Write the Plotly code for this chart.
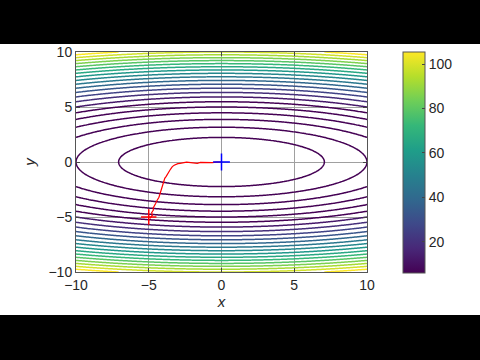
import numpy as np
import plotly.graph_objects as go

# Grid for the contour surface f(x, y) = a*x^2 + b*y^2
x_range = [-10, 10]
y_range = [-10, 10]
coef_x = 0.1
coef_y = 1.0
levels_start, levels_end, levels_step = 5, 105, 5
cbar_min, cbar_max = 6, 105.4
line_cmin, line_cmax = 30, 105.4
cbar_ticks = [20, 40, 60, 80, 100]
axis_ticks = [-10, -5, 0, 5, 10]

# Optimisation path
path_x = [-4.91, -4.85, -4.75, -4.80, -4.68, -4.70, -4.63, -4.55, -4.52, -4.45, -4.36, -4.30,
          -4.25, -4.20, -4.13, -4.05, -4.00, -3.95, -3.90, -3.80, -3.72, -3.60, -3.54, -3.45,
          -3.38, -3.25, -3.15, -3.00, -2.85, -2.70, -2.58, -2.40, -2.12, -1.90, -1.66, -1.45,
          -1.21, -0.95, -0.64, -0.35, 0.0]
path_y = [-5.12, -4.95, -4.82, -4.60, -4.36, -4.20, -4.06, -3.90, -3.76, -3.55, -3.39, -3.20,
          -3.00, -2.75, -2.48, -2.20, -1.94, -1.70, -1.48, -1.30, -1.09, -0.90, -0.73, -0.55,
          -0.42, -0.30, -0.21, -0.15, -0.12, -0.05, -0.06, -0.02, -0.06, -0.03, -0.12, -0.04,
          -0.06, -0.02, -0.06, -0.01, 0.0]
start_pt = [-5, -5]
end_pt = [0, 0]

xs = np.linspace(x_range[0], x_range[1], 201)
ys = np.linspace(y_range[0], y_range[1], 201)
X, Y = np.meshgrid(xs, ys)
Z = coef_x * X**2 + coef_y * Y**2

fig = go.Figure()
fig.add_trace(go.Contour(
    x=xs, y=ys, z=Z,
    contours=dict(start=levels_start, end=levels_end, size=levels_step, coloring='lines'),
    line=dict(width=1.5),
    colorscale='Viridis', zmin=line_cmin, zmax=line_cmax,
    showscale=False, hoverinfo='skip'))

fig.add_trace(go.Scatter(
    x=path_x, y=path_y, mode='lines',
    line=dict(color='#ff0000', width=1.2), showlegend=False))
fig.add_trace(go.Scatter(
    x=[start_pt[0]], y=[start_pt[1]], mode='markers',
    marker=dict(symbol='cross-thin', size=11, line=dict(color='#ff0000', width=1.5)),
    showlegend=False))
fig.add_trace(go.Scatter(
    x=[end_pt[0]], y=[end_pt[1]], mode='markers',
    marker=dict(symbol='cross-thin', size=12, line=dict(color='#0000ff', width=1.5)),
    showlegend=False))

# Colorbar carrier
fig.add_trace(go.Scatter(
    x=[None, None], y=[None, None], mode='markers',
    marker=dict(color=[cbar_min, cbar_max], colorscale='Viridis', cmin=cbar_min, cmax=cbar_max,
                showscale=True,
                colorbar=dict(x=1.124, xanchor='left', y=0.4977, yanchor='middle',
                              xpad=0, ypad=0,
                              thickness=22, thicknessmode='pixels',
                              len=221, lenmode='pixels',
                              outlinewidth=1, outlinecolor='#555',
                              tickvals=cbar_ticks, ticks='inside', ticklen=3,
                              tickcolor='#444',
                              tickfont=dict(size=14, color='#262626', family='Liberation Sans'))),
    showlegend=False, hoverinfo='skip'))

axis_common = dict(
    showgrid=True, gridcolor='#a0a0a0', gridwidth=1,
    zeroline=False, showline=True, linecolor='#555', linewidth=1, mirror='ticks',
    ticks='inside', ticklen=4, tickcolor='#444',
    tickfont=dict(size=14, color='#262626', family='Liberation Sans'),
    tickvals=axis_ticks)

fig.update_layout(
    width=480, height=360,
    margin=dict(l=76, r=113, t=52, b=88, autoexpand=False),
    paper_bgcolor='white', plot_bgcolor='white',
    showlegend=False,
    xaxis=dict(range=x_range, title=dict(text='<i>x</i>', standoff=2,
                                         font=dict(size=15, color='#262626', family='Liberation Sans')),
               **axis_common),
    yaxis=dict(range=y_range, title=dict(text='<i>y</i>', standoff=9,
                                         font=dict(size=15, color='#262626', family='Liberation Sans')),
               **axis_common),
    shapes=[
        dict(type='rect', xref='paper', yref='paper', x0=-0.5, x1=1.5, y0=1.036, y1=1.3,
             fillcolor='black', line=dict(width=0), layer='above'),
        dict(type='rect', xref='paper', yref='paper', x0=-0.5, x1=1.5, y0=-0.5, y1=-0.195,
             fillcolor='black', line=dict(width=0), layer='above'),
    ])

fig.write_html("out.html", config={'displayModeBar': False},
               post_script="document.body.style.margin='0';")
